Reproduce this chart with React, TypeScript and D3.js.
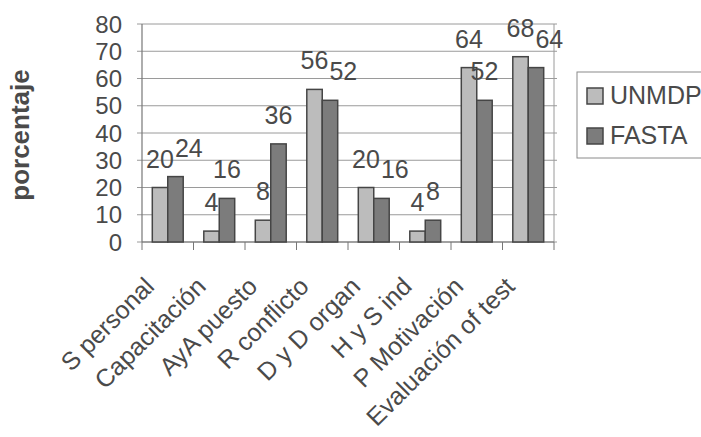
import React from "react";
import * as d3 from "d3";

const categories = [
  "S personal",
  "Capacitación",
  "AyA puesto",
  "R conflicto",
  "D y D organ",
  "H y S ind",
  "P Motivación",
  "Evaluación of test",
];
const seriesNames = ["UNMDP", "FASTA"];
const unmdp = [20, 4, 8, 56, 20, 4, 64, 68];
const fasta = [24, 16, 36, 52, 16, 8, 52, 64];
const yTicks = [0, 10, 20, 30, 40, 50, 60, 70, 80];

const W = 701;
const H = 437;
const left = 142;
const right = 554;
const top = 24;
const bottom = 242;
const fills = ["#bcbcbc", "#7c7c7c"];
const strokeCol = "#454545";
const textCol = "#4a4a4a";
const font = "'Liberation Sans', Arial, sans-serif";
const valueFont = 25;

export default function App() {
  const x = d3.scaleBand<string>().domain(categories).range([left, right]).paddingInner(0.4).paddingOuter(0.2);
  const xs = d3.scaleBand<string>().domain(seriesNames).range([0, x.bandwidth()]);
  const y = d3.scaleLinear().domain([0, 80]).range([bottom, top]);
  const series = [unmdp, fasta];
  const step = x.step();
  const boundaries = d3.range(categories.length + 1).map((i) => left + i * step);

  // value label placement: centered over bar, nudge second label right if it collides with the first
  const labelW = (v: number) => String(v).length * 0.556 * valueFont;
  const labels: { x: number; y: number; v: number; key: string }[] = [];
  categories.forEach((c, ci) => {
    const pos = series.map((vals, si) => ({
      x: (x(c) as number) + (xs(seriesNames[si]) as number) + xs.bandwidth() / 2,
      y: y(vals[ci]) - 20,
      v: vals[ci],
    }));
    const a = pos[0];
    const b = pos[1];
    const overlapX = (labelW(a.v) + labelW(b.v)) / 2 - (b.x - a.x);
    if (overlapX > 0 && Math.abs(a.y - b.y) < valueFont * 0.72) {
      b.x += overlapX + 1;
    }
    pos.forEach((p, si) => labels.push({ ...p, key: `v${si}-${ci}` }));
  });

  return (
    <svg width={W} height={H} style={{ position: "absolute", left: 0, top: 0, background: "#fff" }} fontFamily={font}>
      <rect x={0} y={0} width={W} height={H} fill="#fff" />
      {yTicks.map((t) => (
        <line key={"g" + t} x1={left - 5} x2={right + 3} y1={y(t)} y2={y(t)} stroke="#9a9a9a" strokeWidth={1} />
      ))}
      <line x1={right} x2={right} y1={top} y2={bottom} stroke="#9a9a9a" strokeWidth={1} />
      <line x1={left} x2={left} y1={top} y2={bottom} stroke="#777" strokeWidth={1.2} />
      <line x1={left} x2={right} y1={bottom} y2={bottom} stroke="#777" strokeWidth={1.2} />
      {boundaries.map((b, i) => (
        <line key={"t" + i} x1={b} x2={b} y1={bottom} y2={bottom + 8} stroke="#777" strokeWidth={1} />
      ))}
      {yTicks.map((t) => (
        <text key={"yl" + t} x={left - 20} y={y(t)} dy="0.36em" textAnchor="end" fontSize={24} fill={textCol}>
          {t}
        </text>
      ))}
      <text
        transform={`translate(29,${(top + bottom) / 2 + 2}) rotate(-90)`}
        textAnchor="middle"
        fontSize={26}
        fontWeight="bold"
        fill={textCol}
      >
        porcentaje
      </text>
      {series.map((vals, si) =>
        vals.map((v, ci) => {
          const bx = (x(categories[ci]) as number) + (xs(seriesNames[si]) as number);
          return (
            <rect
              key={`b${si}-${ci}`}
              x={bx}
              y={y(v)}
              width={xs.bandwidth()}
              height={bottom - y(v)}
              fill={fills[si]}
              stroke={strokeCol}
              strokeWidth={1.5}
            />
          );
        })
      )}
      {labels.map((l) => (
        <text key={l.key} x={l.x} y={l.y} textAnchor="middle" fontSize={valueFont} fill={textCol}>
          {l.v}
        </text>
      ))}
      {categories.map((c) => {
        const cx = (x(c) as number) + x.bandwidth() / 2;
        return (
          <text
            key={"xl" + c}
            transform={`translate(${cx - 12},${bottom + 46}) rotate(-45)`}
            textAnchor="end"
            fontSize={25}
            fill={textCol}
          >
            {c}
          </text>
        );
      })}
      <rect x={577} y={72} width={140} height={86} fill="#fff" stroke="#8a8a8a" strokeWidth={1} />
      {seriesNames.map((n, i) => (
        <g key={"lg" + n} transform={`translate(587,${88 + i * 40})`}>
          <rect x={0} y={0} width={16} height={16} fill={fills[i]} stroke={strokeCol} strokeWidth={1.5} />
          <text x={23} y={16} fontSize={25} fill={textCol}>
            {n}
          </text>
        </g>
      ))}
    </svg>
  );
}
